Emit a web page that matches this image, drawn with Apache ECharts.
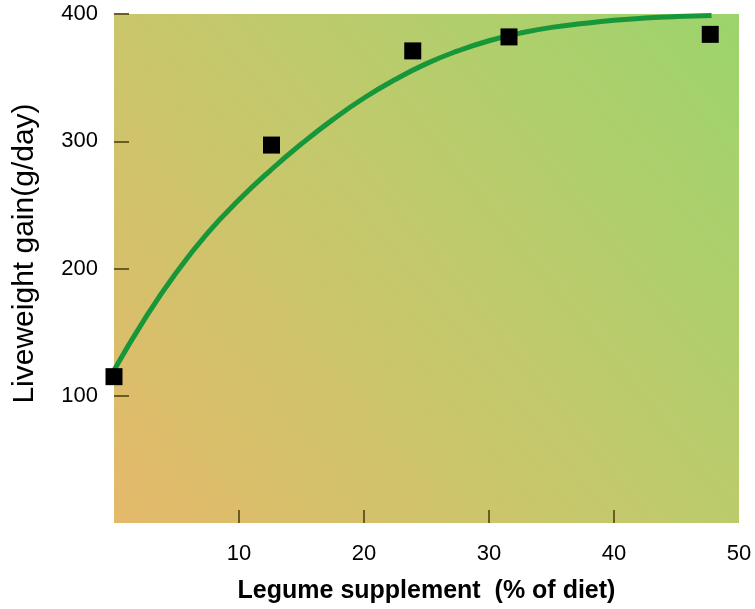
<!DOCTYPE html>
<html>
<head>
<meta charset="utf-8">
<script src="https://cdn.jsdelivr.net/npm/echarts@6/dist/echarts.min.js"></script>
<style>
html,body{margin:0;padding:0;background:#fff;}
#chart{width:755px;height:609px;}
</style>
</head>
<body>
<div id="chart"></div>
<script>
// Observed data points (legume % of diet, liveweight gain g/day)
const pointX = [0, 12.6, 23.9, 31.6, 47.7];
const pointY = [115, 297, 371, 382, 384];

// Fitted curve
const curveX = [0, 2.5, 5, 7.5, 10, 12.5, 15, 17.5, 20, 22.5, 25, 27.5, 30, 32.5, 35, 37.5, 40, 42.5, 45, 47.8];
const curveY = [120, 161, 197, 228, 254, 277, 298, 317, 334, 348.5, 361, 371, 379, 385, 389.5, 392.5, 395, 396.8, 398, 398.8];

// Tick labels
const xTickLabels = [10, 20, 30, 40, 50];
const xTicks = [10, 20, 30, 40];
const yTickLabels = [100, 200, 300, 400];

const FONT = "'Liberation Sans', Arial, sans-serif";

const chart = echarts.init(document.getElementById('chart'), null, {renderer: 'canvas'});
chart.setOption({
  animation: false,
  backgroundColor: '#ffffff',
  grid: {
    left: 114, right: 16, top: 14, bottom: 83,
    show: true,
    borderWidth: 0,
    backgroundColor: new echarts.graphic.LinearGradient(0, 1, 1, 0, [
      {offset: 0, color: '#e4b96a'},
      {offset: 0.5, color: '#c3c96c'},
      {offset: 1, color: '#9cd46c'}
    ])
  },
  xAxis: {
    type: 'value',
    min: 0, max: 50, interval: 10,
    name: 'Legume supplement  (% of diet)',
    nameLocation: 'middle',
    nameGap: 56,
    nameTextStyle: {fontFamily: FONT, fontSize: 25, fontWeight: 'bold', color: '#000'},
    axisLine: {show: false},
    axisTick: {show: true, inside: true, length: 13, lineStyle: {color: '#6a5c22', width: 2}, customValues: xTicks},
    axisLabel: {fontFamily: FONT, fontSize: 22, color: '#000', margin: 20, customValues: xTickLabels},
    splitLine: {show: false}
  },
  yAxis: {
    type: 'value',
    min: 0, max: 400, interval: 100,
    name: 'Liveweight gain(g/day)',
    nameLocation: 'middle',
    nameGap: 74,
    nameTextStyle: {fontFamily: FONT, fontSize: 30, color: '#000', padding: [0, 0, 0, 30]},
    axisLine: {show: false},
    axisTick: {show: true, inside: true, length: 15, lineStyle: {color: '#6a5c22', width: 2}, customValues: yTickLabels},
    axisLabel: {fontFamily: FONT, fontSize: 22, color: '#000', margin: 16, customValues: yTickLabels},
    splitLine: {show: false}
  },
  series: [
    {
      type: 'line',
      data: curveX.map((x, i) => [x, curveY[i]]),
      smooth: 0.5,
      showSymbol: false,
      lineStyle: {color: '#17963a', width: 5},
      z: 2
    },
    {
      type: 'scatter',
      data: pointX.map((x, i) => [x, pointY[i]]),
      symbol: 'rect',
      symbolSize: 17,
      itemStyle: {color: '#000', opacity: 1},
      z: 3
    }
  ]
});
</script>
</body>
</html>
